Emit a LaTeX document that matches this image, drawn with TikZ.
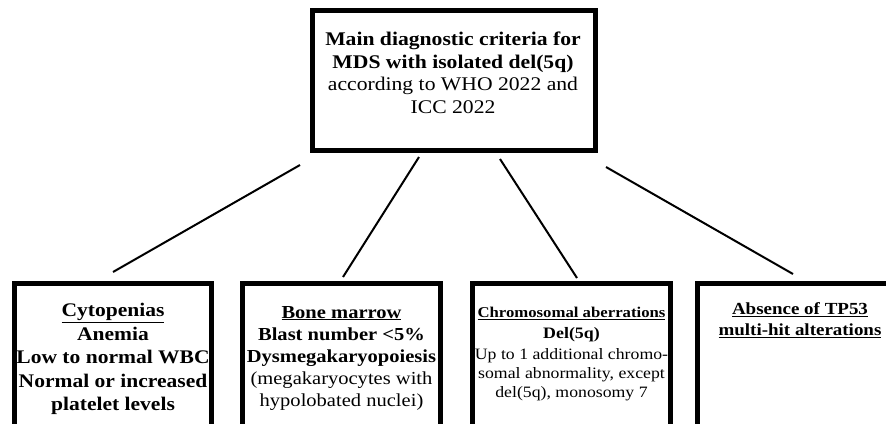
\documentclass[tikz,border=0pt]{standalone}
\usepackage{fontspec}
\setmainfont{Liberation Serif}[FakeStretch=1.12]
\newcommand\ctxt[1]{{\fontsize{15.9}{19.5}\selectfont #1}}
\begin{document}
\begin{tikzpicture}[x=1bp,y=-1bp,
  box/.style={draw=black, line width=5bp, fill=none, inner sep=0pt},
  txt/.style={anchor=north, align=center, inner sep=0pt, text=black},
  conn/.style={draw=black, line width=2bp}]
\useasboundingbox (0,0) rectangle (886,423);
\clip (0,0) rectangle (886,423);
% top box
\node[box, minimum width=283bp, minimum height=140bp] (top) at (454,80.5) {};
\node[txt, font=\fontsize{19.4}{22.7}\selectfont] (ttop) at (453,31.6)
  {\textbf{Main diagnostic criteria for}\\ \textbf{MDS with isolated del(5q)}\\ according to WHO 2022 and\\ ICC 2022};
% bottom boxes
\node[box, minimum width=197bp, minimum height=170bp] (c1) at (113,368.5) {};
\node[box, minimum width=198bp, minimum height=170bp] (c2) at (341.5,368.5) {};
\node[box, minimum width=198bp, minimum height=170bp] (c3) at (571.5,368.5) {};
\node[box, minimum width=198bp, minimum height=170bp] (c4) at (796.5,368.5) {};
% texts
\node[txt, font=\fontsize{19.3}{23.7}\selectfont\bfseries] (t1) at (113,303)
  {\underline{Cytopenias}\\ Anemia\\ Low to normal WBC\\ Normal or increased\\ platelet levels};
\node[txt, font=\fontsize{18.4}{22.2}\selectfont] (t2) at (341.5,305.8)
  {\textbf{\underline{Bone marrow}}\\ \textbf{Blast number <5\%}\\ \textbf{Dysmegakaryopoiesis}\\ (megakaryocytes with\\ hypolobated nuclei)};
\node[txt, font=\fontsize{15}{21}\selectfont] (t3) at (571.5,306.7)
  {\textbf{\underline{Chromosomal aberrations}}\\ {\fontsize{16}{21}\selectfont\textbf{Del(5q)}}\\ \ctxt{Up to 1 additional chromo-}\\[-1.5bp] \ctxt{somal abnormality, except}\\[-1.5bp] \ctxt{del(5q), monosomy 7}};
\node[txt, font=\fontsize{17}{21}\selectfont\bfseries] (t4) at (800,302.3)
  {\underline{Absence of TP53}\\ \underline{multi-hit alterations}};
% connectors
\coordinate (s1) at (300,165); \coordinate (e1) at (113,272);
\coordinate (s2) at (419,157); \coordinate (e2) at (343,277);
\coordinate (s3) at (500,159); \coordinate (e3) at (577,278);
\coordinate (s4) at (606,167); \coordinate (e4) at (793,274);
\draw[conn] (s1) -- (e1);
\draw[conn] (s2) -- (e2);
\draw[conn] (s3) -- (e3);
\draw[conn] (s4) -- (e4);
\end{tikzpicture}
\end{document}
